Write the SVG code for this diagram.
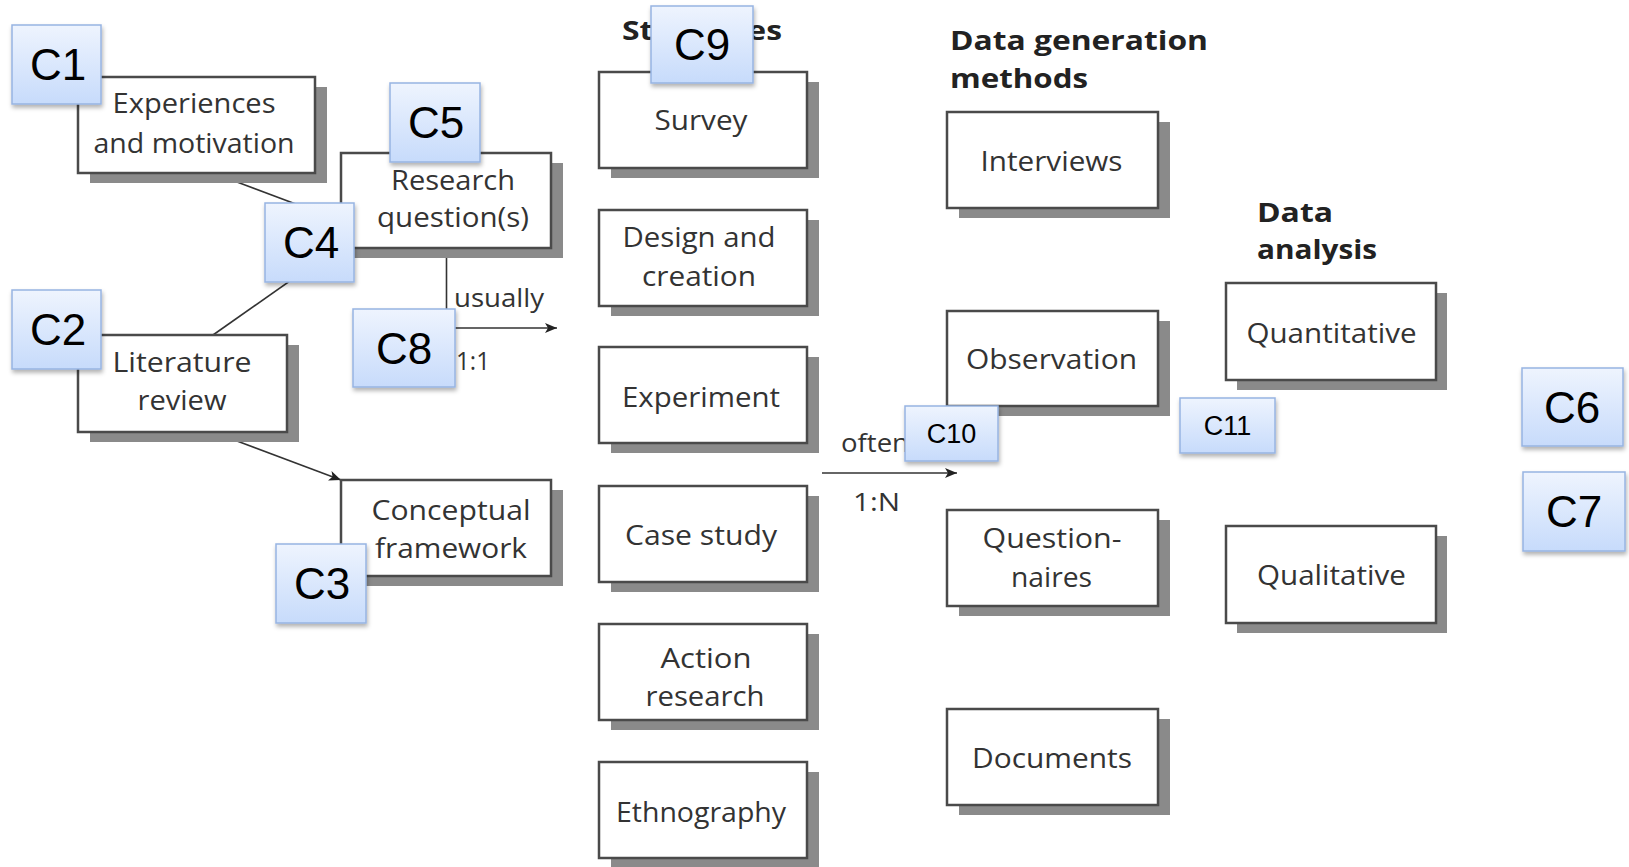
<svg xmlns="http://www.w3.org/2000/svg" width="1629" height="867" viewBox="0 0 1629 867">
<defs>
<linearGradient id="cg" x1="0" y1="0" x2="0" y2="1">
<stop offset="0" stop-color="#eef4fe"/>
<stop offset="1" stop-color="#c7dbfb"/>
</linearGradient>
<filter id="cs" x="-20%" y="-20%" width="150%" height="150%">
<feDropShadow dx="1" dy="3" stdDeviation="2" flood-color="#000" flood-opacity="0.3"/>
</filter>
<marker id="ah" viewBox="0 0 12 10" refX="12" refY="5" markerWidth="12" markerHeight="10" markerUnits="userSpaceOnUse" orient="auto">
<path d="M0,0 L12,5 L0,10 L3,5 Z" fill="#222"/>
</marker>
<style>
.sh{fill:#8a8a8a}
.bx{fill:#fff;stroke:#4a4a4a;stroke-width:2.5}
.t{font-family:"Open Sans","Liberation Sans",sans-serif;font-size:28px;fill:#333;text-anchor:middle}
.h{font-family:"Open Sans","Liberation Sans",sans-serif;font-size:27px;font-weight:bold;fill:#222}
.l{font-family:"Open Sans","Liberation Sans",sans-serif;font-size:26px;fill:#333}
.cn{stroke:#333;stroke-width:1.6;fill:none}
.cb{fill:url(#cg);stroke:#97b4e2;stroke-width:1.5;filter:url(#cs)}
.ct{font-family:"Liberation Sans",Arial,sans-serif;font-size:44px;fill:#000;text-anchor:middle}
.cs{font-family:"Liberation Sans",Arial,sans-serif;font-size:27px;fill:#000;text-anchor:middle}
</style>
</defs>
<rect width="1629" height="867" fill="#fff"/>

<g id="connectors">
<line class="cn" x1="213" y1="173" x2="341" y2="221"/>
<line class="cn" x1="213" y1="335" x2="341" y2="245"/>
<polyline class="cn" points="446.5,248 446.5,328 557,328" marker-end="url(#ah)"/>
<line class="cn" x1="213" y1="432" x2="341" y2="480" marker-end="url(#ah)"/>
<line class="cn" x1="822" y1="473" x2="957" y2="473" marker-end="url(#ah)"/>
<text class="l" x="454" y="307" textLength="90" lengthAdjust="spacingAndGlyphs">usually</text>
<text class="l" x="456" y="370" textLength="34" lengthAdjust="spacingAndGlyphs">1:1</text>
<text class="l" x="841" y="452" textLength="68" lengthAdjust="spacingAndGlyphs">often</text>
<text class="l" x="853" y="511" textLength="47" lengthAdjust="spacingAndGlyphs">1:N</text>
</g>

<g id="headings">
<text class="h" x="622" y="40" textLength="160" lengthAdjust="spacingAndGlyphs">Strategies</text>
<text class="h" x="950" y="50" textLength="258" lengthAdjust="spacingAndGlyphs">Data generation</text>
<text class="h" x="950" y="88" textLength="138" lengthAdjust="spacingAndGlyphs">methods</text>
<text class="h" x="1257" y="222" textLength="76" lengthAdjust="spacingAndGlyphs">Data</text>
<text class="h" x="1257" y="259" textLength="120" lengthAdjust="spacingAndGlyphs">analysis</text>
</g>

<g id="experiences">
<rect class="sh" x="90" y="87" width="237" height="96"/>
<rect class="bx" x="78" y="77" width="237" height="96"/>
<text class="t" x="194" y="113" textLength="163" lengthAdjust="spacingAndGlyphs">Experiences</text>
<text class="t" x="194" y="153" textLength="201" lengthAdjust="spacingAndGlyphs">and motivation</text>
</g>
<g id="research-questions">
<rect class="sh" x="353" y="163" width="210" height="95"/>
<rect class="bx" x="341" y="153" width="210" height="95"/>
<text class="t" x="453" y="190" textLength="124" lengthAdjust="spacingAndGlyphs">Research</text>
<text class="t" x="453" y="227" textLength="152" lengthAdjust="spacingAndGlyphs">question(s)</text>
</g>
<g id="literature-review">
<rect class="sh" x="90" y="345" width="209" height="97"/>
<rect class="bx" x="78" y="335" width="209" height="97"/>
<text class="t" x="182" y="372" textLength="139" lengthAdjust="spacingAndGlyphs">Literature</text>
<text class="t" x="182" y="410" textLength="89" lengthAdjust="spacingAndGlyphs">review</text>
</g>
<g id="conceptual-framework">
<rect class="sh" x="353" y="490" width="210" height="96"/>
<rect class="bx" x="341" y="480" width="210" height="96"/>
<text class="t" x="451" y="520" textLength="159" lengthAdjust="spacingAndGlyphs">Conceptual</text>
<text class="t" x="451" y="558" textLength="152" lengthAdjust="spacingAndGlyphs">framework</text>
</g>

<g id="survey">
<rect class="sh" x="611" y="82" width="208" height="96"/>
<rect class="bx" x="599" y="72" width="208" height="96"/>
<text class="t" x="701" y="130" textLength="93" lengthAdjust="spacingAndGlyphs">Survey</text>
</g>
<g id="design-creation">
<rect class="sh" x="611" y="220" width="208" height="96"/>
<rect class="bx" x="599" y="210" width="208" height="96"/>
<text class="t" x="699" y="247" textLength="153" lengthAdjust="spacingAndGlyphs">Design and</text>
<text class="t" x="699" y="286" textLength="114" lengthAdjust="spacingAndGlyphs">creation</text>
</g>
<g id="experiment">
<rect class="sh" x="611" y="357" width="208" height="96"/>
<rect class="bx" x="599" y="347" width="208" height="96"/>
<text class="t" x="701" y="407" textLength="158" lengthAdjust="spacingAndGlyphs">Experiment</text>
</g>
<g id="case-study">
<rect class="sh" x="611" y="496" width="208" height="96"/>
<rect class="bx" x="599" y="486" width="208" height="96"/>
<text class="t" x="701" y="545" textLength="152" lengthAdjust="spacingAndGlyphs">Case study</text>
</g>
<g id="action-research">
<rect class="sh" x="611" y="634" width="208" height="96"/>
<rect class="bx" x="599" y="624" width="208" height="96"/>
<text class="t" x="706" y="668" textLength="91" lengthAdjust="spacingAndGlyphs">Action</text>
<text class="t" x="705" y="706" textLength="119" lengthAdjust="spacingAndGlyphs">research</text>
</g>
<g id="ethnography">
<rect class="sh" x="611" y="772" width="208" height="96"/>
<rect class="bx" x="599" y="762" width="208" height="96"/>
<text class="t" x="701" y="822" textLength="170" lengthAdjust="spacingAndGlyphs">Ethnography</text>
</g>

<g id="interviews">
<rect class="sh" x="959" y="122" width="211" height="96"/>
<rect class="bx" x="947" y="112" width="211" height="96"/>
<text class="t" x="1051.5" y="171" textLength="142" lengthAdjust="spacingAndGlyphs">Interviews</text>
</g>
<g id="observation">
<rect class="sh" x="959" y="321" width="211" height="95"/>
<rect class="bx" x="947" y="311" width="211" height="95"/>
<text class="t" x="1051.5" y="369" textLength="171" lengthAdjust="spacingAndGlyphs">Observation</text>
</g>
<g id="questionnaires">
<rect class="sh" x="959" y="520" width="211" height="96"/>
<rect class="bx" x="947" y="510" width="211" height="96"/>
<text class="t" x="1052" y="548" textLength="139" lengthAdjust="spacingAndGlyphs">Question-</text>
<text class="t" x="1051.5" y="587" textLength="81" lengthAdjust="spacingAndGlyphs">naires</text>
</g>
<g id="documents">
<rect class="sh" x="959" y="719" width="211" height="96"/>
<rect class="bx" x="947" y="709" width="211" height="96"/>
<text class="t" x="1052" y="768" textLength="160" lengthAdjust="spacingAndGlyphs">Documents</text>
</g>

<g id="quantitative">
<rect class="sh" x="1237" y="293" width="210" height="97"/>
<rect class="bx" x="1226" y="283" width="210" height="97"/>
<text class="t" x="1331.5" y="343" textLength="170" lengthAdjust="spacingAndGlyphs">Quantitative</text>
</g>
<g id="qualitative">
<rect class="sh" x="1237" y="536" width="210" height="97"/>
<rect class="bx" x="1226" y="526" width="210" height="97"/>
<text class="t" x="1331.5" y="585" textLength="149" lengthAdjust="spacingAndGlyphs">Qualitative</text>
</g>

<g id="C1"><rect class="cb" x="12" y="25" width="89" height="79"/><text class="ct" x="58" y="80">C1</text></g>
<g id="C2"><rect class="cb" x="12" y="290" width="89" height="79"/><text class="ct" x="58" y="345">C2</text></g>
<g id="C3"><rect class="cb" x="276" y="544" width="90" height="79"/><text class="ct" x="322" y="599">C3</text></g>
<g id="C4"><rect class="cb" x="265" y="203" width="89" height="79"/><text class="ct" x="311" y="258">C4</text></g>
<g id="C5"><rect class="cb" x="390" y="83" width="90" height="79"/><text class="ct" x="436" y="138">C5</text></g>
<g id="C6"><rect class="cb" x="1522" y="368" width="101" height="78"/><text class="ct" x="1572" y="423">C6</text></g>
<g id="C7"><rect class="cb" x="1523" y="472" width="102" height="79"/><text class="ct" x="1574" y="527">C7</text></g>
<g id="C8"><rect class="cb" x="353" y="309" width="102" height="78"/><text class="ct" x="404" y="364">C8</text></g>
<g id="C9"><rect class="cb" x="651" y="6" width="102" height="77"/><text class="ct" x="702" y="60">C9</text></g>
<g id="C10"><rect class="cb" x="905" y="406" width="93" height="55"/><text class="cs" x="951.5" y="443">C10</text></g>
<g id="C11"><rect class="cb" x="1180" y="398" width="95" height="55"/><text class="cs" x="1227.5" y="435">C11</text></g>
</svg>
